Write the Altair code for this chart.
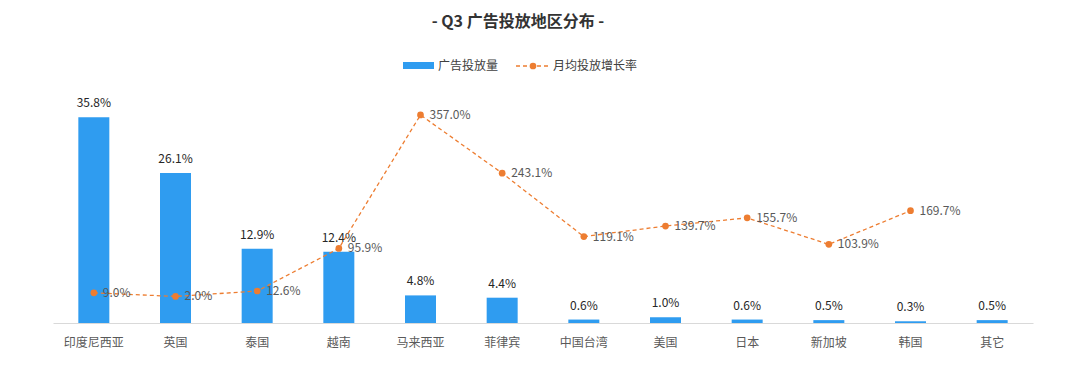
import altair as alt
import pandas as pd

regions = ["印度尼西亚", "英国", "泰国", "越南", "马来西亚", "菲律宾",
           "中国台湾", "美国", "日本", "新加坡", "韩国", "其它"]
share = [35.8, 26.1, 12.9, 12.4, 4.8, 4.4, 0.6, 1.0, 0.6, 0.5, 0.3, 0.5]
growth = [9.0, 2.0, 12.6, 95.9, 357.0, 243.1, 119.1, 139.7, 155.7, 103.9, 169.7, None]

series_names = ["广告投放量", "月均投放增长率"]
title_text = ["- Q3 广告投放地区分布 -"]

BLUE = "#2f9cf0"
ORANGE = "#ed7d31"
FONT = "Noto Sans CJK SC"

df = pd.DataFrame({"region": regions, "share": share, "growth": growth})
df_line = df.dropna(subset=["growth"])

x_enc = alt.X("region:N", sort=regions, title=None,
              scale=alt.Scale(paddingInner=0, paddingOuter=0),
              axis=alt.Axis(labelAngle=0, ticks=False, domainColor="#d9d9d9",
                            domainWidth=1, labelColor="#595959", labelFontSize=12,
                            labelFont=FONT, labelPadding=14, grid=False))

bars = alt.Chart(df).mark_bar(size=31, color=BLUE).encode(
    x=x_enc,
    y=alt.Y("share:Q", scale=alt.Scale(domain=[0, 40]), axis=None),
)
bar_text = alt.Chart(df).transform_calculate(
    label="format(datum.share, '.1f') + '%'"
).mark_text(dy=-14, fontSize=12, font=FONT, color="#262626").encode(
    x=alt.X("region:N", sort=regions),
    y=alt.Y("share:Q", scale=alt.Scale(domain=[0, 40]), axis=None),
    text="label:N",
)
bar_layer = alt.layer(bars, bar_text)

line = alt.Chart(df_line).mark_line(
    color=ORANGE, strokeDash=[4, 3], strokeWidth=1.3,
    point=alt.OverlayMarkDef(filled=True, size=45, color=ORANGE)
).encode(
    x=alt.X("region:N", sort=regions),
    y=alt.Y("growth:Q", scale=alt.Scale(domain=[-50, 400]), axis=None),
)
line_text = alt.Chart(df_line).transform_calculate(
    label="format(datum.growth, '.1f') + '%'"
).mark_text(dx=9, align="left", baseline="middle", fontSize=12, font=FONT,
            color="#595959").encode(
    x=alt.X("region:N", sort=regions),
    y=alt.Y("growth:Q", scale=alt.Scale(domain=[-50, 400]), axis=None),
    text="label:N",
)
line_layer = alt.layer(line, line_text)

# title and manual legend (above the plot area)
title_df = pd.DataFrame({"t": title_text})
title_mark = alt.Chart(title_df).mark_text(
    align="center", baseline="middle", fontSize=16, font=FONT,
    fontWeight="bold", color="#333333"
).encode(x=alt.value(465), y=alt.value(-71), text="t:N")

leg_df = pd.DataFrame({"name": series_names})
leg_bar = alt.Chart(leg_df).transform_filter(
    alt.datum.name == series_names[0]
).mark_rect(color=BLUE).encode(
    x=alt.value(350), x2=alt.value(381), y=alt.value(-31), y2=alt.value(-24))
leg_bar_text = alt.Chart(leg_df).transform_filter(
    alt.datum.name == series_names[0]
).mark_text(align="left", baseline="middle", fontSize=12, font=FONT,
            color="#404040").encode(
    x=alt.value(385), y=alt.value(-27), text="name:N")
leg_line = alt.Chart(leg_df).transform_filter(
    alt.datum.name == series_names[1]
).mark_rule(color=ORANGE, strokeDash=[4, 3], strokeWidth=1.3).encode(
    x=alt.value(463), x2=alt.value(496), y=alt.value(-27))
leg_dot = alt.Chart(leg_df).transform_filter(
    alt.datum.name == series_names[1]
).mark_point(filled=True, size=45, color=ORANGE, opacity=1).encode(
    x=alt.value(480), y=alt.value(-27))
leg_line_text = alt.Chart(leg_df).transform_filter(
    alt.datum.name == series_names[1]
).mark_text(align="left", baseline="middle", fontSize=12, font=FONT,
            color="#404040").encode(
    x=alt.value(500), y=alt.value(-27), text="name:N")
legend_layer = alt.layer(title_mark, leg_bar, leg_bar_text, leg_line, leg_dot,
                         leg_line_text)

chart = alt.layer(bar_layer, line_layer, legend_layer).resolve_scale(
    y="independent"
).properties(
    width=980, height=230,
    padding={"left": 45, "top": 85, "right": 39, "bottom": 58},
    autosize=alt.AutoSizeParams(type="none"),
).configure(background="white").configure_view(stroke=None)

chart.save("out.html", embed_options={"renderer": "svg", "actions": False})
